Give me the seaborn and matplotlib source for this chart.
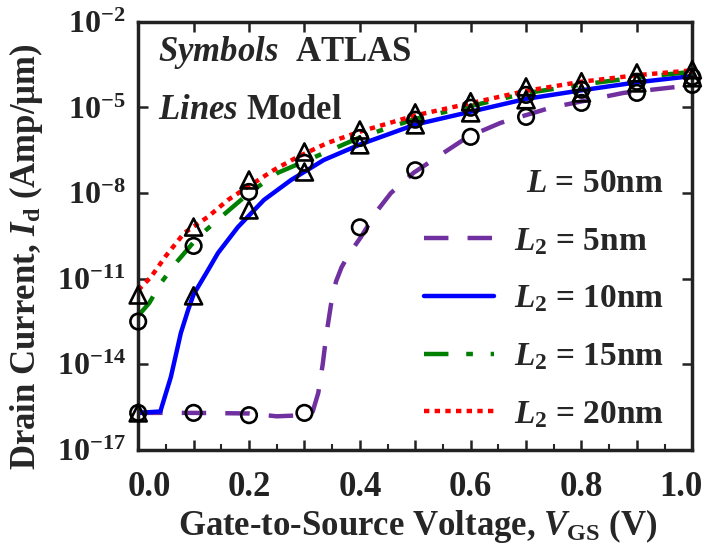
import numpy as np
import pandas as pd
import matplotlib
matplotlib.use("Agg")
import matplotlib.pyplot as plt
import matplotlib.transforms as mtrans
import seaborn as sns

# Model curves (lines): gate voltage and log10 of drain current
vgs_5 = [0.0, 0.1, 0.2, 0.25, 0.3, 0.315, 0.325, 0.333, 0.34, 0.348, 0.357, 0.367,
         0.38, 0.402, 0.432, 0.456, 0.497, 0.559, 0.595, 0.654, 0.744, 0.876, 1.0]
logid_5 = [-15.7, -15.7, -15.72, -15.82, -15.78, -15.65, -15.0, -14.0, -12.9, -11.9,
           -11.1, -10.6, -10.15, -9.54, -8.6, -8.0, -7.29, -6.49, -6.03, -5.54, -5.01,
           -4.49, -4.22]

vgs_10 = [0.0, 0.04, 0.059, 0.077, 0.09, 0.1, 0.126, 0.144, 0.18, 0.227, 0.276,
          0.335, 0.4, 0.5, 0.6, 0.7, 0.8, 0.9, 1.0]
logid_10 = [-15.7, -15.65, -14.44, -12.9, -12.1, -11.55, -10.7, -10.1, -9.19, -8.24,
            -7.54, -6.84, -6.3, -5.6, -5.15, -4.7, -4.4, -4.12, -3.9]

vgs_15 = [0.0, 0.02, 0.041, 0.068, 0.108, 0.15, 0.2, 0.252, 0.317, 0.4, 0.5, 0.6,
          0.7, 0.8, 0.9, 1.0]
logid_15 = [-12.3, -11.85, -11.15, -10.45, -9.54, -8.83, -8.0, -7.29, -6.75, -6.05,
            -5.4, -4.95, -4.5, -4.2, -3.95, -3.75]

vgs_20 = [0.0, 0.023, 0.05, 0.083, 0.126, 0.162, 0.198, 0.245, 0.288, 0.342, 0.4,
          0.5, 0.6, 0.7, 0.8, 0.9, 1.0]
logid_20 = [-11.4, -10.94, -10.2, -9.4, -8.83, -8.24, -7.78, -7.19, -6.73, -6.24,
            -5.85, -5.28, -4.85, -4.42, -4.1, -3.87, -3.7]

# ATLAS simulation (symbols)
vgs_atlas = [0.0, 0.1, 0.2, 0.3, 0.4, 0.5, 0.6, 0.7, 0.8, 0.9, 1.0]
atlas_5 = [-15.7, -15.7, -15.78, -15.7, -9.2, -7.2, -6.03, -5.33, -4.84, -4.49, -4.21]
atlas_10 = [-15.7, -11.6, -8.59, -7.26, -6.31, -5.61, -5.19, -4.73, -4.49, -4.14, -3.96]
atlas_15 = [-12.5, -9.85, -7.96, -6.94, -6.07, -5.43, -5.01, -4.56, -4.38, -4.1, -3.93]
atlas_20 = [-11.57, -9.19, -7.54, -6.56, -5.79, -5.19, -4.8, -4.28, -4.1, -3.79, -3.68]

labels = ["$L_2$ = 5nm", "$L_2$ = 10nm", "$L_2$ = 15nm", "$L_2$ = 20nm"]
colors = ["#7030A0", "#0000FF", "#008000", "#FF0000"]
styles = [(0, (5.5, 4.3)), "-", (0, (5.5, 4.0, 1.5, 4.0)), (0, (1.2, 1.2))]

sns.set_style("ticks")
plt.rcParams["font.family"] = ["Liberation Serif", "DejaVu Serif"]
plt.rcParams["font.weight"] = "bold"
plt.rcParams["axes.labelweight"] = "bold"
plt.rcParams["mathtext.fontset"] = "custom"
plt.rcParams["mathtext.rm"] = "Liberation Serif:bold"
plt.rcParams["mathtext.it"] = "Liberation Serif:italic:bold"
plt.rcParams["mathtext.bf"] = "Liberation Serif:bold"

fig = plt.figure(figsize=(7.05, 5.59), dpi=100)
ax = fig.add_axes([0.196, 0.195, 0.786, 0.766])
ax.set_yscale("log")

curves = [(vgs_5, logid_5), (vgs_10, logid_10), (vgs_15, logid_15), (vgs_20, logid_20)]
handles = []
for (vx, vy), lab, col, ls in zip(curves, labels, colors, styles):
    df = pd.DataFrame({"vgs": vx, "id": 10.0 ** np.array(vy)})
    sns.lineplot(data=df, x="vgs", y="id", color=col, lw=3.2, linestyle=ls,
                 sort=False, estimator=None, ax=ax, label=lab, zorder=2)
    handles.append(ax.lines[-1])

# symbols: circles for 5 / 15 nm, triangles for 10 / 20 nm
sym = [(atlas_5, "o"), (atlas_10, "^"), (atlas_15, "o"), (atlas_20, "^")]
for vals, m in sym:
    df = pd.DataFrame({"vgs": vgs_atlas, "id": 10.0 ** np.array(vals)})
    sns.scatterplot(data=df, x="vgs", y="id", marker=m, s=150 if m == "^" else 125,
                    facecolor="none", edgecolor="black", linewidth=1.9, ax=ax,
                    legend=False, zorder=3, clip_on=False)

ax.set_xlim(0, 1.0)
ax.set_ylim(1e-17, 1e-2)
ax.set_yticks([10.0 ** k for k in range(-17, -1, 3)])
ax.set_yticklabels([f"$10^{{{k}}}$" for k in range(-17, -1, 3)])
ax.minorticks_off()
xt = np.arange(0, 1.01, 0.1)
ax.set_xticks(xt)
ax.set_xticklabels([f"{v:.1f}" if i % 2 == 0 else "" for i, v in enumerate(xt)])
ax.set_xticks(np.arange(0.05, 1.0, 0.1), minor=True)
ax.tick_params(axis="both", which="major", direction="in", length=7, width=1.8,
               top=True, right=True, colors="#222222", labelcolor="#222222")
ax.tick_params(axis="x", which="major", labelsize=25, pad=15)
ax.tick_params(axis="y", which="major", labelsize=23, pad=9)
ax.tick_params(axis="x", which="minor", direction="in", length=4, width=1.5, bottom=True, top=False)
for sp in ax.spines.values():
    sp.set_linewidth(2.5)
    sp.set_color("#222222")

# end labels pulled inward a little, as in the original
xlabs = ax.get_xticklabels()
for lab, dx in ((xlabs[0], 11), (xlabs[-1], -11)):
    lab.set_transform(lab.get_transform() + mtrans.ScaledTranslation(dx / 100, 0, fig.dpi_scale_trans))

ax.set_xlabel("Gate-to-Source Voltage, $\\mathit{V}_{\\mathrm{GS}}$ (V)", fontsize=25)
ax.xaxis.set_label_coords(0.505, -0.133)
ax.set_ylabel("Drain Current, $\\mathit{I}_{\\mathrm{d}}$ (Amp/μm)", fontsize=25)
ax.yaxis.set_label_coords(-0.168, 0.45)

ax.text(0.036, 0.928, "$\\mathit{Symbols}$  ATLAS", transform=ax.transAxes, fontsize=25, va="center")
ax.text(0.036, 0.794, "$\\mathit{Lines}$ Model", transform=ax.transAxes, fontsize=25, va="center")

leg = ax.legend(handles=handles, labels=labels, loc="lower right", bbox_to_anchor=(0.985, 0.0),
                frameon=False, fontsize=24, handlelength=2.1, labelspacing=0.8,
                title="$L$ = 50nm", title_fontsize=24, alignment="right", handletextpad=0.6,
                borderaxespad=0.2)

fig.savefig("out.png", dpi=100)
